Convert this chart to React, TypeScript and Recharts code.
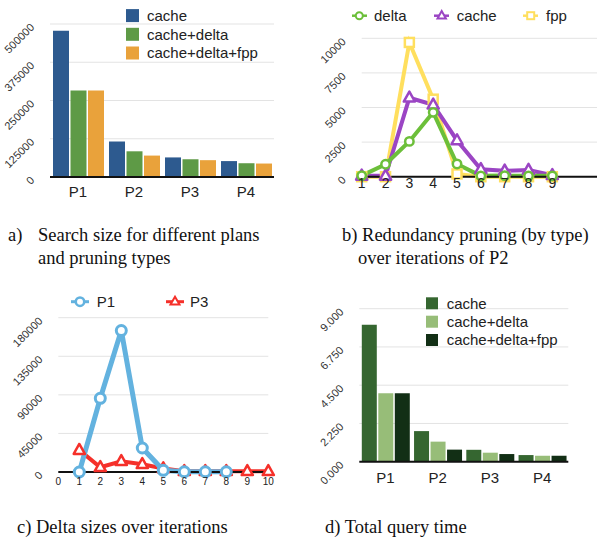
import React from "react";
import { BarChart, Bar, LineChart, Line, XAxis, YAxis, CartesianGrid } from "recharts";

const SANS = "'Liberation Sans', Arial, Helvetica, sans-serif";
const SERIF = "'Liberation Serif', 'Times New Roman', serif";

// a) search size
const plans = ["P1", "P2", "P3", "P4"];
const searchCache = [478000, 116000, 64000, 52000];
const searchDelta = [283000, 84000, 58000, 45000];
const searchFpp = [283000, 70000, 55000, 44000];
const searchTicks = [0, 125000, 250000, 375000, 500000];

// b) redundancy pruning over iterations of P2
const pruneIterations = [1, 2, 3, 4, 5, 6, 7, 8, 9];
const pruneDelta = [80, 900, 2550, 4650, 920, 60, 80, 60, 60];
const pruneCache = [60, 60, 5700, 5200, 2620, 530, 430, 480, 100];
const pruneFpp = [0, 0, 9700, 5600, 200, 0, 0, 0, 0];
const pruneTicks = [0, 2500, 5000, 7500, 10000];
const pruneXTicks = [1, 2, 3, 4, 5, 6, 7, 8, 9];

// c) delta sizes
const deltaIterations = [1, 2, 3, 4, 5, 6, 7, 8, 9, 10];
const deltaP1 = [0, 86000, 165000, 28000, 2000, 300, 300, 300, null, null];
const deltaP3 = [25500, 5500, 12500, 9000, 4000, 800, 800, 800, 800, 800];
const deltaTicks = [0, 45000, 90000, 135000, 180000];
const deltaXTicks = [0, 1, 2, 3, 4, 5, 6, 7, 8, 9, 10];

// d) total query time
const timeCache = [8.05, 1.8, 0.7, 0.39];
const timeDelta = [4.02, 1.18, 0.53, 0.35];
const timeFpp = [4.02, 0.71, 0.45, 0.35];
const timeTicks = [0, 2.25, 4.5, 6.75, 9];

const searchData = plans.map((p, i) => ({ name: p, cache: searchCache[i], delta: searchDelta[i], fpp: searchFpp[i] }));
const pruneData = pruneIterations.map((it, i) => ({ it, delta: pruneDelta[i], cache: pruneCache[i], fpp: pruneFpp[i] }));
const deltaData = deltaIterations.map((it, i) => ({ it, p1: deltaP1[i], p3: deltaP3[i] }));
const timeData = plans.map((p, i) => ({ name: p, cache: timeCache[i], delta: timeDelta[i], fpp: timeFpp[i] }));

const GRID = "#e3e3e3";

const yTick = (axisX: number, fmt: (v: number) => string) => (props: any) => {
  const ax = axisX - 15;
  const ay = props.y + 4;
  return (
    <text x={ax} y={ay} transform={`rotate(-45 ${ax} ${ay})`} textAnchor="end" fontSize={11} fill="#333" fontFamily={SANS}>
      {fmt(props.payload.value)}
    </text>
  );
};

const xTick = (baseY: number, size: number) => (props: any) => (
  <text x={props.x} y={baseY} textAnchor="middle" fontSize={size} fill="#222" fontFamily={SANS}>
    {props.payload.value}
  </text>
);

const circleDot = (color: string, r: number, sw: number) => (props: any) => {
  const { cx, cy, index } = props;
  if (cx == null || cy == null || props.value == null) return <g key={index} />;
  return <circle key={index} cx={cx} cy={cy} r={r} fill="#fff" stroke={color} strokeWidth={sw} />;
};

const triDot = (color: string, s: number, sw: number) => (props: any) => {
  const { cx, cy, index } = props;
  if (cx == null || cy == null || props.value == null) return <g key={index} />;
  const pts = `${cx},${cy - s * 0.62} ${cx - s * 0.56},${cy + s * 0.38} ${cx + s * 0.56},${cy + s * 0.38}`;
  return <polygon key={index} points={pts} fill="#fff" stroke={color} strokeWidth={sw} strokeLinejoin="round" />;
};

const squareDot = (color: string, s: number, sw: number) => (props: any) => {
  const { cx, cy, index } = props;
  if (cx == null || cy == null || props.value == null) return <g key={index} />;
  return <rect key={index} x={cx - s / 2} y={cy - s / 2} width={s} height={s} fill="#fff" stroke={color} strokeWidth={sw} />;
};

const axisLine = { stroke: "#111", strokeWidth: 2 };

const SearchChart = () => (
  <BarChart width={300} height={210} data={searchData} margin={{ top: 24, left: 0, right: 26, bottom: 0 }} barCategoryGap={3} barGap={1.5}>
    <CartesianGrid vertical={false} stroke={GRID} />
    <YAxis width={50} domain={[0, 500000]} ticks={searchTicks} axisLine={false} tickLine={false} tick={yTick(50, (v) => String(v))} />
    <XAxis dataKey="name" height={33} axisLine={axisLine} tickLine={false} tick={xTick(196.5, 15)} />
    <Bar dataKey="cache" fill="#2d5a8f" isAnimationActive={false} />
    <Bar dataKey="delta" fill="#5e9a46" isAnimationActive={false} />
    <Bar dataKey="fpp" fill="#e9a23b" isAnimationActive={false} />
  </BarChart>
);

const PruneChart = () => (
  <LineChart width={300} height={200} data={pruneData} margin={{ top: 38.3, left: 0, right: 0, bottom: 0 }}>
    <CartesianGrid vertical={false} stroke={GRID} />
    <YAxis width={61.7} domain={[0, 10000]} ticks={pruneTicks} axisLine={false} tickLine={false} tick={yTick(61.7, (v) => String(v))} />
    <XAxis dataKey="it" type="number" domain={[1, 11]} ticks={pruneXTicks} height={23.3} axisLine={axisLine} tickLine={false} tick={xTick(188, 14)} />
    <Line dataKey="fpp" stroke="#ffdf5e" strokeWidth={4} dot={squareDot("#ffdf5e", 9, 2.5)} isAnimationActive={false} />
    <Line dataKey="cache" stroke="#9b45c4" strokeWidth={4} dot={triDot("#9b45c4", 10, 2.5)} isAnimationActive={false} />
    <Line dataKey="delta" stroke="#6cbf3a" strokeWidth={4} dot={circleDot("#6cbf3a", 4.2, 2.5)} isAnimationActive={false} />
  </LineChart>
);

const DeltaChart = () => (
  <LineChart width={300} height={230} data={deltaData} margin={{ top: 47.7, left: 0, right: 31.7, bottom: 0 }}>
    <CartesianGrid vertical={false} stroke={GRID} />
    <YAxis width={58.3} domain={[0, 180000]} ticks={deltaTicks} axisLine={false} tickLine={false} tick={yTick(58.3, (v) => String(v))} />
    <XAxis dataKey="it" type="number" domain={[0, 10]} ticks={deltaXTicks} interval={0} height={28} axisLine={axisLine} tickLine={false} tick={xTick(215.3, 10)} />
    <Line dataKey="p3" stroke="#f5302a" strokeWidth={4} dot={triDot("#f5302a", 10, 2.5)} isAnimationActive={false} />
    <Line dataKey="p1" stroke="#63b2df" strokeWidth={5} dot={circleDot("#63b2df", 5, 3)} isAnimationActive={false} />
  </LineChart>
);

const TimeChart = () => (
  <BarChart width={297} height={230} data={timeData} margin={{ top: 38.7, left: 0, right: 28.7, bottom: 0 }} barCategoryGap={2.5} barGap={1.5}>
    <CartesianGrid vertical={false} stroke={GRID} />
    <YAxis width={59.3} domain={[0, 9]} ticks={timeTicks} axisLine={false} tickLine={false} tick={yTick(59.3, (v) => v.toFixed(3))} />
    <XAxis dataKey="name" height={38.3} axisLine={axisLine} tickLine={false} tick={xTick(212.7, 15)} />
    <Bar dataKey="cache" fill="#356630" isAnimationActive={false} />
    <Bar dataKey="delta" fill="#97bd78" isAnimationActive={false} />
    <Bar dataKey="fpp" fill="#122f15" isAnimationActive={false} />
  </BarChart>
);

const boxLegend = (x: number, tx: number, ys: number[], size: number, labels: string[], colors: string[]) =>
  labels.map((l, i) => (
    <g key={l}>
      <rect x={x} y={ys[i] - size / 2} width={size} height={size} fill={colors[i]} />
      <text x={tx} y={ys[i] + 5.3} fontSize={15} fill="#222" fontFamily={SANS}>{l}</text>
    </g>
  ));

const barLabels = ["cache", "cache+delta", "cache+delta+fpp"];

export default function App() {
  const place = (left: number, top: number): React.CSSProperties => ({ position: "absolute", left, top });
  return (
    <div style={{ position: "absolute", left: 0, top: 0, width: 597, height: 543, overflow: "hidden", background: "#fff" }}>
      <div style={place(0, 0)}><SearchChart /></div>
      <div style={place(300, 0)}><PruneChart /></div>
      <div style={place(0, 270)}><DeltaChart /></div>
      <div style={place(300, 270)}><TimeChart /></div>
      <svg width={597} height={543} style={{ position: "absolute", left: 0, top: 0, pointerEvents: "none" }}>
        {boxLegend(126, 147, [15.6, 34.3, 53], 13, barLabels, ["#2d5a8f", "#5e9a46", "#e9a23b"])}
        {boxLegend(426, 446.7, [303.3, 321.7, 340], 12, barLabels, ["#356630", "#97bd78", "#122f15"])}

        <g>
          <line x1={352} x2={367} y1={15.7} y2={15.7} stroke="#6cbf3a" strokeWidth={2.5} />
          <circle cx={359.3} cy={15.7} r={3.5} fill="#fff" stroke="#6cbf3a" strokeWidth={2} />
          <text x={374} y={21} fontSize={15} fill="#222" fontFamily={SANS}>delta</text>
          <line x1={434} x2={449} y1={15.7} y2={15.7} stroke="#9b45c4" strokeWidth={2.5} />
          <polygon points="441.7,11 437.5,18.5 445.9,18.5" fill="#fff" stroke="#9b45c4" strokeWidth={2} />
          <text x={456.7} y={21} fontSize={15} fill="#222" fontFamily={SANS}>cache</text>
          <line x1={523} x2={538} y1={15.7} y2={15.7} stroke="#ffdf5e" strokeWidth={2.5} />
          <rect x={527.2} y={12.2} width={7} height={7} fill="#fff" stroke="#ffdf5e" strokeWidth={2} />
          <text x={546} y={21} fontSize={15} fill="#222" fontFamily={SANS}>fpp</text>
        </g>

        <g>
          <line x1={71} x2={89} y1={301.7} y2={301.7} stroke="#63b2df" strokeWidth={3} />
          <circle cx={80} cy={301.7} r={4.2} fill="#fff" stroke="#63b2df" strokeWidth={2.5} />
          <text x={96.7} y={307} fontSize={15} fill="#222" fontFamily={SANS}>P1</text>
          <line x1={166} x2={184} y1={301.7} y2={301.7} stroke="#f5302a" strokeWidth={3} />
          <polygon points="175,296.7 170.5,304.5 179.5,304.5" fill="#fff" stroke="#f5302a" strokeWidth={2} />
          <text x={190} y={307} fontSize={15} fill="#222" fontFamily={SANS}>P3</text>
        </g>

        <g fontFamily={SERIF} fontSize={18.5} fill="#111">
          <text x={8} y={241}>a)</text>
          <text x={38} y={241}>Search size for different plans</text>
          <text x={38} y={264}>and pruning types</text>
          <text x={342} y={241}>b) Redundancy pruning (by type)</text>
          <text x={358} y={264}>over iterations of P2</text>
          <text x={17} y={533}>c) Delta sizes over iterations</text>
          <text x={325} y={533}>d) Total query time</text>
        </g>
      </svg>
    </div>
  );
}
